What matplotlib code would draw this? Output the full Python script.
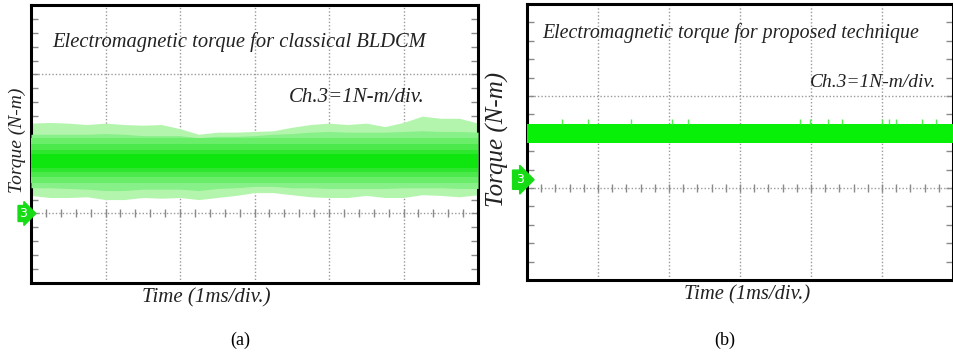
import numpy as np
import matplotlib.pyplot as plt
from matplotlib.ticker import MultipleLocator
from matplotlib.transforms import blended_transform_factory

plt.rcParams['font.family'] = ['Liberation Serif', 'DejaVu Serif']

# time base, 1 ms/div, sampled every 0.25 ms
t = np.arange(0, 6.01, 0.25)

# (a) classical BLDCM torque envelope, in N-m (1 N-m/div)
a_outer_top = [1.30, 1.31, 1.30, 1.28, 1.30, 1.28, 1.27, 1.28, 1.22, 1.14, 1.17, 1.17, 1.18,
               1.19, 1.24, 1.28, 1.30, 1.28, 1.30, 1.25, 1.31, 1.40, 1.37, 1.37, 1.30]
a_outer_bot = [0.26, 0.23, 0.23, 0.24, 0.20, 0.20, 0.23, 0.22, 0.23, 0.20, 0.23, 0.26, 0.30,
               0.30, 0.27, 0.24, 0.23, 0.23, 0.26, 0.23, 0.23, 0.27, 0.26, 0.24, 0.27]
a_solid_top = [1.14, 1.14, 1.14, 1.14, 1.15, 1.14, 1.12, 1.12, 1.12, 1.09, 1.11, 1.11, 1.12,
               1.14, 1.15, 1.17, 1.18, 1.17, 1.17, 1.17, 1.18, 1.19, 1.18, 1.18, 1.17]
a_solid_bot = [0.37, 0.37, 0.36, 0.35, 0.33, 0.33, 0.35, 0.35, 0.35, 0.33, 0.36, 0.37, 0.39,
               0.39, 0.37, 0.37, 0.36, 0.36, 0.36, 0.36, 0.37, 0.37, 0.37, 0.36, 0.36]
# denser trace density towards the mean value
a_core = [(1.08, 0.44), (1.00, 0.52), (0.92, 0.59), (0.85, 0.66)]
a_core_colors = ['#6aee6a', '#4ce94c', '#2de62d', '#0fe50f']

# (b) proposed technique torque band, in N-m
b_top = 0.70
b_bot = 0.49
b_spike_t = [0.49, 0.86, 1.46, 2.04, 2.27, 3.85, 3.99, 4.24, 4.44, 5.00, 5.10, 5.20, 5.56, 5.76]
b_spike_top = 0.745

fig = plt.figure(figsize=(9.54, 3.56), dpi=100)
ax_a = fig.add_axes([0.0325, 0.2051, 0.4686, 0.7809])
ax_b = fig.add_axes([0.5524, 0.2135, 0.4465, 0.7753])


def scope_axes(ax, ylim):
    ax.set_xlim(0, 6)
    ax.set_ylim(*ylim)
    ax.xaxis.set_major_locator(MultipleLocator(1))
    ax.yaxis.set_major_locator(MultipleLocator(1))
    ax.yaxis.set_minor_locator(MultipleLocator(0.2))
    ax.tick_params(axis='x', length=0, labelbottom=False)
    ax.tick_params(axis='y', which='both', direction='in', left=True, right=True,
                   length=5, width=1, color='#8a8a8a', labelleft=False)
    ax.set_axisbelow(True)
    ax.grid(True, which='major', ls=(0, (1, 1.5)), color='#9a9a9a', lw=1)
    for s in ax.spines.values():
        s.set_linewidth(2.2)
        s.set_color('black')
    # ground reference with its 0.2 div ticks
    gx = np.arange(0, 6.01, 0.2)
    ax.plot(gx, np.zeros_like(gx), '|', ms=6, mew=1, color='#8a8a8a', zorder=1)


def channel_marker(ax, y, pad):
    tr = blended_transform_factory(ax.transAxes, ax.transData)
    ax.text(-0.008, y, '3', transform=tr, ha='right', va='center', color='white',
            fontsize=9, family='DejaVu Sans', clip_on=False,
            bbox=dict(boxstyle='rarrow,pad=' + pad, fc='#16dc16', ec='#16dc16'))


# ---- (a)
scope_axes(ax_a, (-1, 3))
ax_a.fill_between(t, a_outer_bot, a_outer_top, color='#b4f5ae', lw=0, zorder=2)
ax_a.fill_between(t, a_solid_bot, a_solid_top, color='#88f088', lw=0, zorder=3)
for (hi, lo), c in zip(a_core, a_core_colors):
    ax_a.fill_between(t, lo, hi, color=c, lw=0, zorder=4)
channel_marker(ax_a, 0, '0.12')
ax_a.text(0.047, 0.867, 'Electromagnetic torque for classical BLDCM', transform=ax_a.transAxes,
          ha='left', va='center', style='italic', fontsize=14.8, color='#222222')
ax_a.text(0.577, 0.669, 'Ch.3=1N-m/div.', transform=ax_a.transAxes,
          ha='left', va='center', style='italic', fontsize=15, color='#222222')

# ---- (b)
scope_axes(ax_b, (-1, 2))
ax_b.fill_between(t, b_bot, b_top, color='#08f008', lw=0, zorder=3)
ax_b.vlines(b_spike_t, b_top, b_spike_top, color='#55ee55', lw=1, zorder=3)
channel_marker(ax_b, 0.09, '0.25')
ax_b.text(0.035, 0.895, 'Electromagnetic torque for proposed technique', transform=ax_b.transAxes,
          ha='left', va='center', style='italic', fontsize=14.3, color='#222222')
ax_b.text(0.664, 0.717, 'Ch.3=1N-m/div.', transform=ax_b.transAxes,
          ha='left', va='center', style='italic', fontsize=14, color='#222222')

# axis captions
fig.text(0.0178, 0.607, 'Torque (N-m)', rotation=90, ha='center', va='center',
         style='italic', fontsize=14, color='#222222')
fig.text(0.521, 0.607, 'Torque (N-m)', rotation=90, ha='center', va='center',
         style='italic', fontsize=18, color='#222222')
fig.text(0.216, 0.163, 'Time (1ms/div.)', ha='center', va='center',
         style='italic', fontsize=15, color='#222222')
fig.text(0.783, 0.171, 'Time (1ms/div.)', ha='center', va='center',
         style='italic', fontsize=14.8, color='#222222')
fig.text(0.2516, 0.045, '(a)', ha='center', va='center', fontsize=13, color='black')
fig.text(0.760, 0.045, '(b)', ha='center', va='center', fontsize=13, color='black')

fig.savefig('out.png', dpi=100)
